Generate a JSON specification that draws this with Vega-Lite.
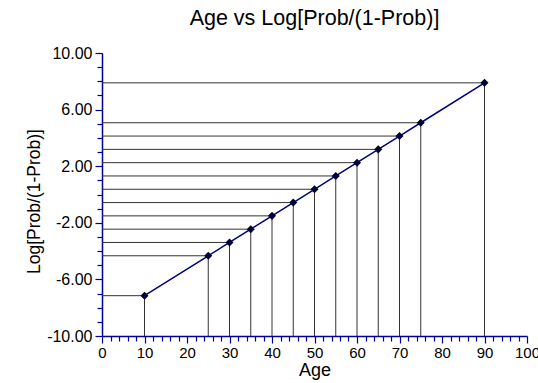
{
  "$schema": "https://vega.github.io/schema/vega-lite/v6.json",
  "width": 425,
  "height": 283,
  "autosize": "none",
  "padding": {"left": 102, "top": 53, "right": 11, "bottom": 47},
  "background": "white",
  "config": {
    "view": {"stroke": null},
    "font": "Liberation Sans",
    "axis": {"grid": false, "domainColor": "#000099", "tickColor": "#000099", "labelColor": "black", "titleColor": "black", "labelFont": "Liberation Sans", "titleFont": "Liberation Sans", "titleFontWeight": "normal", "labelFontSize": 16, "titleFontSize": 18, "domainWidth": 1.5, "tickWidth": 1.2}
  },
  "title": {"text": "Age vs Log[Prob/(1-Prob)]", "fontSize": 21.5, "fontWeight": "normal", "font": "Liberation Sans", "anchor": "middle", "offset": 16, "color": "black"},
  "data": {"values": [
    {"age": 10, "logit": -7.15},
    {"age": 25, "logit": -4.33},
    {"age": 30, "logit": -3.39},
    {"age": 35, "logit": -2.45},
    {"age": 40, "logit": -1.51},
    {"age": 45, "logit": -0.57},
    {"age": 50, "logit": 0.37},
    {"age": 55, "logit": 1.31},
    {"age": 60, "logit": 2.25},
    {"age": 65, "logit": 3.19},
    {"age": 70, "logit": 4.13},
    {"age": 75, "logit": 5.07},
    {"age": 90, "logit": 7.89}
  ]},
  "resolve": {"axis": {"x": "independent", "y": "independent"}},
  "layer": [
    {
      "mark": {"type": "point", "opacity": 0},
      "encoding": {
        "x": {"field": "age", "type": "quantitative", "scale": {"domain": [0, 100], "nice": false}, "axis": {"orient": "bottom", "values": [2,4,6,8,12,14,16,18,22,24,26,28,32,34,36,38,42,44,46,48,52,54,56,58,62,64,66,68,72,74,76,78,82,84,86,88,92,94,96,98], "tickSize": 5, "labels": false, "title": null, "domain": false}},
        "y": {"field": "logit", "type": "quantitative", "scale": {"domain": [-10, 10], "nice": false}, "axis": {"orient": "left", "values": [-9,-8,-7,-5,-4,-3,-1,0,1,3,4,5,7,8,9], "tickSize": 5, "labels": false, "title": null, "domain": false}}
      }
    },
    {
      "mark": {"type": "rule", "color": "#333333", "strokeWidth": 1},
      "encoding": {
        "x": {"field": "age", "type": "quantitative", "axis": null},
        "y": {"field": "logit", "type": "quantitative", "axis": null},
        "y2": {"datum": -10}
      }
    },
    {
      "mark": {"type": "rule", "color": "#333333", "strokeWidth": 1},
      "encoding": {
        "x": {"field": "age", "type": "quantitative", "axis": null},
        "x2": {"datum": 0},
        "y": {"field": "logit", "type": "quantitative", "axis": null}
      }
    },
    {
      "mark": {"type": "line", "color": "#000080", "strokeWidth": 1.5},
      "encoding": {
        "x": {"field": "age", "type": "quantitative", "axis": {"orient": "bottom", "values": [0,10,20,30,40,50,60,70,80,90,100], "tickSize": 7, "labelPadding": 2, "labelFontSize": 15, "title": "Age", "titlePadding": 1, "labelFlush": false}},
        "y": {"field": "logit", "type": "quantitative", "axis": {"orient": "left", "values": [-10,-6,-2,2,6,10], "format": ".2f", "labelExpr": "replace(datum.label, '\u2212', '-')", "tickSize": 7, "labelPadding": 3, "title": "Log[Prob/(1-Prob)]", "titleFontSize": 17.5, "titlePadding": 3, "titleY": 148}}
      }
    },
    {
      "mark": {"type": "point", "shape": "diamond", "filled": true, "color": "#000033", "size": 65, "opacity": 1},
      "encoding": {
        "x": {"field": "age", "type": "quantitative", "axis": null},
        "y": {"field": "logit", "type": "quantitative", "axis": null}
      }
    }
  ]
}
